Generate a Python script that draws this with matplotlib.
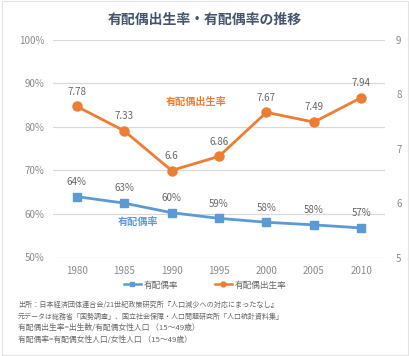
import matplotlib
matplotlib.use("Agg")
import matplotlib.pyplot as plt
from matplotlib.patches import Rectangle
from matplotlib.lines import Line2D

plt.rcParams['font.family'] = ['Noto Sans CJK JP', 'DejaVu Sans']

years = ['1980', '1985', '1990', '1995', '2000', '2005', '2010']
marriage_rate = [64.0, 62.5, 60.3, 59.0, 58.1, 57.5, 56.8]
marriage_labels = ['64%', '63%', '60%', '59%', '58%', '58%', '57%']
birth_rate = [7.78, 7.33, 6.6, 6.86, 7.67, 7.49, 7.94]
birth_labels = ['7.78', '7.33', '6.6', '6.86', '7.67', '7.49', '7.94']
left_ticks = [50, 60, 70, 80, 90, 100]
right_ticks = [5, 6, 7, 8, 9]

title = '有配偶出生率・有配偶率の推移'
notes = [
    '出所：日本経済団体連合会/21世紀政策研究所『人口減少への対応にまったなし』',
    '元データは総務省「国勢調査」、国立社会保障・人口問題研究所「人口統計資料集」',
    '有配偶出生率=出生数/有配偶女性人口 （15～49歳）',
    '有配偶率=有配偶女性人口/女性人口 （15～49歳）',
]
note_sizes = [5.1, 5.0, 5.6, 5.6]

BLUE = '#5B9BD5'
ORANGE = '#ED7D31'
GRAY = '#8A8A8A'
LAB = '#666666'

W, H = 410, 356
fig = plt.figure(figsize=(W / 100, H / 100), dpi=100)
fig.patches.append(Rectangle((0.004, 0.004), 0.992, 0.992, transform=fig.transFigure,
                             fill=False, edgecolor='#E3E3E3', linewidth=0.8))

ax = fig.add_axes([53 / W, 1 - 257.5 / H, 332 / W, 217.5 / H])
ax2 = ax.twinx()

x = list(range(len(years)))
ax.set_xlim(-0.5, len(years) - 0.5)
ax.set_ylim(50, 100)
ax2.set_ylim(5, 9)

ax.set_yticks(left_ticks)
ax.set_yticklabels([f'{t}%' for t in left_ticks])
ax2.set_yticks(right_ticks)
ax2.set_yticklabels([str(t) for t in right_ticks])
ax.set_xticks(x)
ax.set_xticklabels(years)

for a in (ax, ax2):
    for s in a.spines.values():
        s.set_visible(False)
    a.tick_params(length=0, colors=GRAY, labelsize=7)
ax.tick_params(axis='y', pad=6)
ax.tick_params(axis='x', pad=6)
ax2.tick_params(axis='y', pad=8)
ax.grid(axis='y', color='#D9D9D9', linewidth=0.9)
ax.set_axisbelow(True)

ax.plot(x, marriage_rate, color=BLUE, lw=2, marker='s', ms=6, zorder=3)
ax2.plot(x, birth_rate, color=ORANGE, lw=2, marker='o', ms=6.5, zorder=3)

for xi, v, t in zip(x, marriage_rate, marriage_labels):
    ax.annotate(t, (xi, v), xytext=(0, 7), textcoords='offset points', ha='center',
                va='bottom', fontsize=7, color=LAB)
for xi, v, t in zip(x, birth_rate, birth_labels):
    ax2.annotate(t, (xi, v), xytext=(0, 7), textcoords='offset points', ha='center',
                 va='bottom', fontsize=7, color=LAB)

ax.text(0.43, 0.715, '有配偶出生率', transform=ax.transAxes, ha='center', va='center',
        fontsize=7.3, color=ORANGE, fontweight='bold')
ax.text(0.256, 0.163, '有配偶率', transform=ax.transAxes, ha='center', va='center',
        fontsize=7.3, color=BLUE, fontweight='bold')

fig.text(0.5, 1 - 20 / H, title, ha='center', va='center', fontsize=10,
         fontweight='bold', color='#44546A')

h1 = Line2D([], [], color=BLUE, lw=1.8, marker='s', ms=3.5)
h2 = Line2D([], [], color=ORANGE, lw=1.8, marker='o', ms=3.5)
fig.legend(handles=[h1, h2], labels=['有配偶率', '有配偶出生率'], loc='center',
           bbox_to_anchor=(0.5, 1 - 285 / H), ncol=2, frameon=False, fontsize=6.2,
           labelcolor=LAB, handlelength=2.0, columnspacing=4.3, handletextpad=0.3)

for i, (n, fs) in enumerate(zip(notes, note_sizes)):
    fig.text(18 / W, 1 - (305 + i * 11.6) / H, n, ha='left', va='center', fontsize=fs, color=LAB)

fig.savefig('out.png', dpi=100)
